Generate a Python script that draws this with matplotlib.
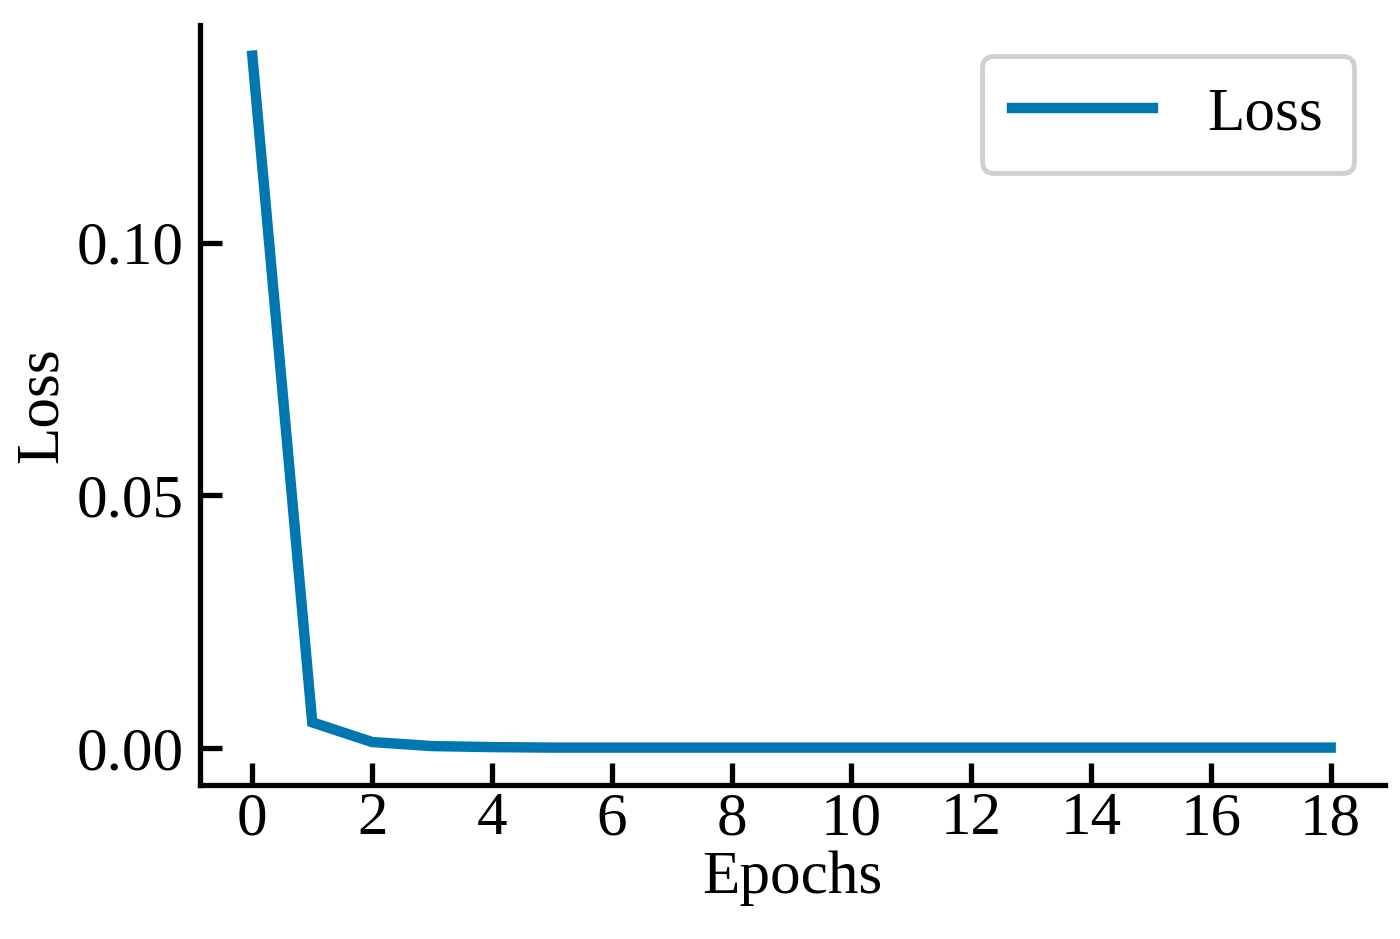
import numpy as np
import matplotlib.pyplot as plt

# loss per epoch
epochs = list(range(19))
loss = [0.137, 0.0051, 0.0012, 0.0004, 0.0002, 0.0001, 0.0001, 0.0001, 0.0001, 0.0001,
        0.0001, 0.0001, 0.0001, 0.0001, 0.0001, 0.0001, 0.0001, 0.0001, 0.0001]
xticks = list(range(0, 19, 2))
yticks = [0.00, 0.05, 0.10]

plt.rcParams['font.family'] = ['Liberation Serif', 'DejaVu Serif']

fig = plt.figure(figsize=(14, 9.39), dpi=100)
ax = fig.add_axes([0.143, 0.164, 0.846, 0.809])

ax.plot(epochs, loss, color='#0077b0', lw=7.5, label='Loss', solid_joinstyle='miter')

ax.set_xlim(-0.87, 18.9)
ax.set_ylim(-0.0073, 0.143)
ax.set_xticks(xticks)
ax.set_yticks(yticks)
ax.set_yticklabels([f'{v:.2f}' for v in yticks])

for s in ['top', 'right']:
    ax.spines[s].set_visible(False)
for s in ['left', 'bottom']:
    ax.spines[s].set_linewidth(3.8)

ax.tick_params(direction='in', length=16, width=3.8, labelsize=44)
ax.tick_params(axis='x', pad=5)
ax.tick_params(axis='y', pad=12)
ax.set_xlabel('Epochs', fontsize=44, labelpad=2)
ax.set_ylabel('Loss', fontsize=44, labelpad=5)

leg = ax.legend(loc='upper right', fontsize=44, handlelength=2.3, handletextpad=0.9,
                fancybox=True, framealpha=1, borderpad=0.5, bbox_to_anchor=(1.0, 1.0))
leg.get_frame().set_edgecolor('#d0d0d0')
leg.get_frame().set_linewidth(3.5)

fig.savefig('out.png', dpi=100)
